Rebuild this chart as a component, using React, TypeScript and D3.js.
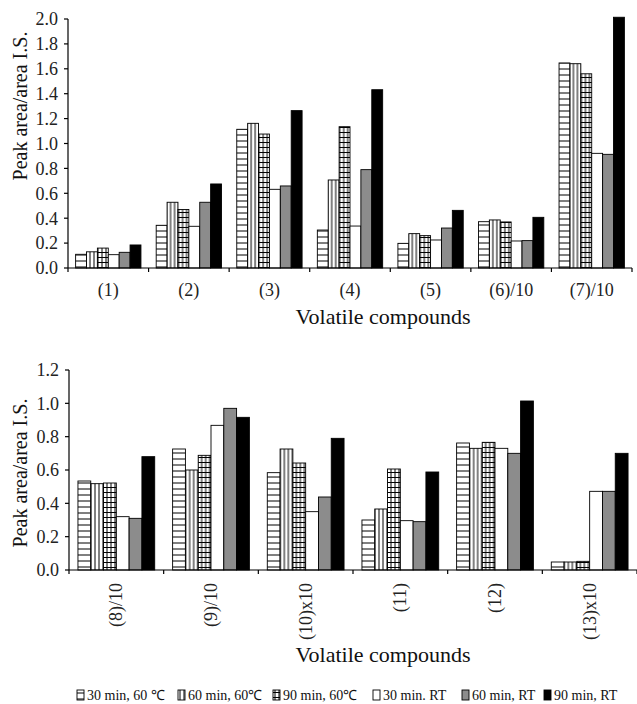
import React from "react";
import * as d3 from "d3";

const series = ["30 min, 60 ℃", "60 min, 60℃", "90 min, 60℃", "30 min. RT", "60 min, RT", "90 min, RT"];
const fills = ["url(#hstripe)", "url(#vstripe)", "url(#grid)", "#ffffff", "#8c8c8c", "#000000"];

const topCats = ["(1)", "(2)", "(3)", "(4)", "(5)", "(6)/10", "(7)/10"];
const topValues = [
  [0.11, 0.13, 0.16, 0.107, 0.126, 0.185],
  [0.343, 0.528, 0.47, 0.335, 0.528, 0.675],
  [1.114, 1.162, 1.076, 0.632, 0.659, 1.264],
  [0.305, 0.707, 1.135, 0.337, 0.79, 1.432],
  [0.198, 0.276, 0.26, 0.225, 0.321, 0.463],
  [0.372, 0.386, 0.37, 0.217, 0.22, 0.407],
  [1.647, 1.641, 1.56, 0.921, 0.913, 2.014],
];
const topTicks = [0, 0.2, 0.4, 0.6, 0.8, 1.0, 1.2, 1.4, 1.6, 1.8, 2.0];

const botCats = ["(8)/10", "(9)/10", "(10)x10", "(11)", "(12)", "(13)x10"];
const botValues = [
  [0.534, 0.518, 0.522, 0.32, 0.31, 0.68],
  [0.726, 0.6, 0.688, 0.868, 0.97, 0.916],
  [0.584, 0.726, 0.642, 0.35, 0.438, 0.79],
  [0.3, 0.366, 0.606, 0.296, 0.29, 0.588],
  [0.762, 0.73, 0.766, 0.73, 0.7, 1.014],
  [0.048, 0.048, 0.052, 0.472, 0.472, 0.7],
];
const botTicks = [0, 0.2, 0.4, 0.6, 0.8, 1.0, 1.2];

const font = "'Liberation Serif', 'Times New Roman', serif";

type PanelProps = {
  cats: string[];
  values: number[][];
  ticks: number[];
  x0: number;
  x1: number;
  yTop: number;
  yBottom: number;
  maxY: number;
  rotate: boolean;
  labelY: number;
  titleY: number;
  yLabelY: number;
};

function Panel(p: PanelProps) {
  const x = d3.scaleBand<string>().domain(p.cats).range([p.x0, p.x1]).padding(0);
  const xi = d3.scaleBand<string>().domain(series).range([0, x.bandwidth()]).paddingInner(0).paddingOuter(0.7);
  const y = d3.scaleLinear().domain([0, p.maxY]).range([p.yBottom, p.yTop]);
  const fmt = d3.format(".1f");
  const bounds = p.cats.map((c) => x(c) as number).concat([p.x1]);
  return (
    <g>
      {p.values.map((row, ci) => (
        <g key={ci} transform={`translate(${x(p.cats[ci])},0)`}>
          {row.map((v, si) => (
            <rect
              key={si}
              x={xi(series[si]) as number}
              y={y(v)}
              width={xi.bandwidth()}
              height={y(0) - y(v)}
              fill={fills[si]}
              stroke="#000"
              strokeWidth={0.9}
            />
          ))}
        </g>
      ))}
      {/* y axis */}
      <line x1={p.x0} x2={p.x0} y1={y(p.maxY)} y2={y(0)} stroke="#000" strokeWidth={1.2} />
      {p.ticks.map((t) => (
        <g key={t}>
          <line x1={p.x0 - 4} x2={p.x0} y1={y(t)} y2={y(t)} stroke="#000" strokeWidth={1.2} />
          <text x={p.x0 - 10} y={y(t)} dy="0.35em" textAnchor="end" fontSize={18} fontFamily={font} fill="#222">
            {fmt(t)}
          </text>
        </g>
      ))}
      {/* x axis */}
      <line x1={p.x0} x2={p.x1} y1={y(0)} y2={y(0)} stroke="#000" strokeWidth={1.2} />
      {bounds.map((b, i) => (
        <line key={i} x1={b} x2={b} y1={y(0)} y2={y(0) + 4} stroke="#000" strokeWidth={1.2} />
      ))}
      {p.cats.map((c) => {
        const cx = (x(c) as number) + x.bandwidth() / 2;
        return p.rotate ? (
          <text
            key={c}
            transform={`translate(${cx + 6},${p.labelY}) rotate(-90)`}
            textAnchor="end"
            fontSize={18}
            fontFamily={font}
            fill="#222"
          >
            {c}
          </text>
        ) : (
          <text key={c} x={cx} y={p.labelY} textAnchor="middle" fontSize={18} fontFamily={font} fill="#222">
            {c}
          </text>
        );
      })}
      <text x={383} y={p.titleY} textAnchor="middle" fontSize={22} fontFamily={font} fill="#111">
        Volatile compounds
      </text>
      <text
        transform={`translate(27,${p.yLabelY}) rotate(-90)`}
        textAnchor="middle"
        fontSize={20}
        fontFamily={font}
        fill="#111"
      >
        Peak area/area I.S.
      </text>
    </g>
  );
}

const legendX = [77, 178, 273, 373, 462, 544];

export default function App() {
  return (
    <svg
      width={637}
      height={704}
      style={{ position: "absolute", left: 0, top: 0, background: "#fff" }}
    >
      <defs>
        <pattern id="hstripe" patternUnits="userSpaceOnUse" width={6} height={6}>
          <rect width={6} height={6} fill="#fff" />
          <line x1={0} x2={6} y1={3} y2={3} stroke="#000" strokeWidth={1} />
        </pattern>
        <pattern id="vstripe" patternUnits="userSpaceOnUse" width={4} height={6}>
          <rect width={4} height={6} fill="#fff" />
          <line x1={2} x2={2} y1={0} y2={6} stroke="#000" strokeWidth={1} />
        </pattern>
        <pattern id="grid" patternUnits="userSpaceOnUse" width={4} height={5}>
          <rect width={4} height={5} fill="#fff" />
          <line x1={2} x2={2} y1={0} y2={5} stroke="#000" strokeWidth={1} />
          <line x1={0} x2={4} y1={2.5} y2={2.5} stroke="#000" strokeWidth={1} />
        </pattern>
      </defs>
      <Panel
        cats={topCats}
        values={topValues}
        ticks={topTicks}
        x0={68}
        x1={632}
        yTop={19}
        yBottom={268}
        maxY={2.0}
        rotate={false}
        labelY={296}
        titleY={324}
        yLabelY={106}
      />
      <Panel
        cats={botCats}
        values={botValues}
        ticks={botTicks}
        x0={69}
        x1={637}
        yTop={370}
        yBottom={570}
        maxY={1.2}
        rotate={true}
        labelY={583}
        titleY={662}
        yLabelY={473}
      />
      {series.map((s, i) => (
        <g key={s} transform={`translate(${legendX[i]},690)`}>
          <rect x={0} y={0} width={7} height={10} fill={fills[i]} stroke="#000" strokeWidth={0.9} />
          <text x={10} y={9.5} fontSize={14} fontFamily={font} fill="#111">
            {s}
          </text>
        </g>
      ))}
    </svg>
  );
}
